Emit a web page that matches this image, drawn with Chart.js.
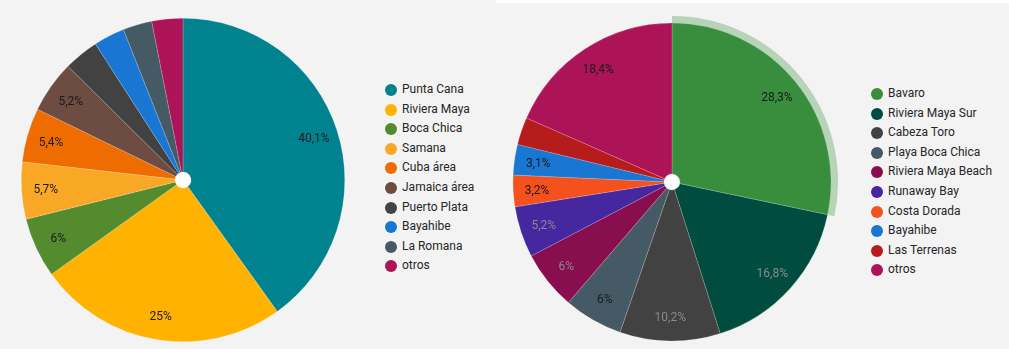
<!DOCTYPE html>
<html>
<head>
<meta charset="utf-8">
<script src="https://cdn.jsdelivr.net/npm/chart.js@4"></script>
<style>
  html, body { margin: 0; padding: 0; }
  body {
    width: 1009px; height: 349px; overflow: hidden;
    background: #f3f3f3; position: relative;
    font-family: Roboto, "Noto Sans", sans-serif;
  }
  .strip { position: absolute; left: 496px; top: 0; width: 513px; height: 3px; background: #fff; }
  .wrap { position: absolute; top: 0; height: 349px; }
  #left-wrap { left: 0; width: 366px; }
  #right-wrap { left: 500px; width: 350px; }
  .legend { position: absolute; margin: 0; padding: 0; list-style: none; }
  .legend li {
    height: 19.6px; line-height: 19.6px; font-size: 12px; color: #262626;
    white-space: nowrap; position: relative; padding-left: 17px;
  }
  .legend li span.dot {
    position: absolute; left: 0; top: 4px; width: 12px; height: 12px; border-radius: 50%;
  }
  #left-legend { left: 385px; top: 80px; }
  #right-legend { left: 871px; top: 84px; }
</style>
</head>
<body>
<div class="strip"></div>
<div class="wrap" id="left-wrap"><canvas id="leftChart"></canvas></div>
<div class="wrap" id="right-wrap"><canvas id="rightChart"></canvas></div>
<ul class="legend" id="left-legend"></ul>
<ul class="legend" id="right-legend"></ul>

<script>
// ==================================================
// DATA
// ==================================================
const leftLabels = ["Punta Cana", "Riviera Maya", "Boca Chica", "Samana", "Cuba área",
    "Jamaica área", "Puerto Plata", "Bayahibe", "La Romana", "otros"];
const leftValues = [40.1, 25, 6, 5.7, 5.4, 5.2, 3.5, 3.1, 2.9, 3.1];
const leftColors = ["#00838f", "#ffb300", "#558b2f", "#f9a825", "#ef6c00",
    "#6d4c41", "#424242", "#1976d2", "#455a64", "#ad1457"];
const leftShowLabel = [true, true, true, true, true, true, false, false, false, false];
const leftLabelColors = ["#1b1b1b", "#1b1b1b", "#1b1b1b", "#1b1b1b", "#1b1b1b",
    "#1b1b1b", "#1b1b1b", "#1b1b1b", "#1b1b1b", "#1b1b1b"];

const rightLabels = ["Bavaro", "Riviera Maya Sur", "Cabeza Toro", "Playa Boca Chica",
    "Riviera Maya Beach", "Runaway Bay", "Costa Dorada", "Bayahibe", "Las Terrenas", "otros"];
const rightValues = [28.3, 16.8, 10.2, 6, 6, 5.2, 3.2, 3.1, 2.8, 18.4];
const rightColors = ["#388e3c", "#004d40", "#424242", "#455a64", "#880e4f",
    "#4527a0", "#f4511e", "#1976d2", "#b71c1c", "#ad1457"];
const rightShowLabel = [true, true, true, true, true, true, true, true, false, true];
const rightLabelColors = ["#1b1b1b", "#8a8a8a", "#8a8a8a", "#1b1b1b", "#8a8a8a",
    "#8a8a8a", "#1b1b1b", "#1b1b1b", "#1b1b1b", "#1b1b1b"];

// ==================================================
// HELPERS
// ==================================================
function fmtPct(v) {
    return String(v).replace(".", ",") + "%";
}

function buildLegend(id, labels, colors) {
    const ul = document.getElementById(id);
    labels.forEach((lab, i) => {
        const li = document.createElement("li");
        li.innerHTML = `<span class="dot" style="background:${colors[i]}"></span>${lab}`;
        ul.appendChild(li);
    });
}

// draws percentage text inside the slices of the main dataset
function sliceLabels(mainIndex, show, textColors) {
    return {
        id: "sliceLabels",
        afterDatasetsDraw(chart) {
            const ctx = chart.ctx;
            const meta = chart.getDatasetMeta(mainIndex);
            const values = chart.data.datasets[mainIndex].data;
            ctx.save();
            ctx.font = "12px Roboto, 'Noto Sans', sans-serif";
            ctx.textAlign = "center";
            ctx.textBaseline = "middle";
            meta.data.forEach((arc, i) => {
                if (!show[i]) return;
                const p = arc.getProps(["x", "y", "startAngle", "endAngle", "outerRadius"], true);
                const mid = (p.startAngle + p.endAngle) / 2;
                const r = p.outerRadius * 0.85;
                ctx.fillStyle = textColors[i];
                ctx.fillText(fmtPct(values[i]), p.x + Math.cos(mid) * r, p.y + Math.sin(mid) * r + 1);
            });
            ctx.restore();
        }
    };
}

// ==================================================
// LEFT CHART
// ==================================================
new Chart(document.getElementById("leftChart"), {
    type: "pie",
    data: {
        labels: leftLabels,
        datasets: [{
            data: leftValues,
            backgroundColor: leftColors,
            borderColor: "rgba(255,255,255,0.35)",
            borderWidth: 0.5,
            weight: 154
        }, {
            data: [1],
            backgroundColor: "#ffffff",
            borderWidth: 0,
            weight: 8
        }]
    },
    options: {
        responsive: true,
        maintainAspectRatio: false,
        animation: false,
        layout: { padding: { left: 21, right: 21, top: 18, bottom: 7 } },
        plugins: { legend: { display: false }, tooltip: { enabled: false } }
    },
    plugins: [sliceLabels(0, leftShowLabel, leftLabelColors)]
});

// ==================================================
// RIGHT CHART
// ==================================================
const ringColors = rightColors.map((c, i) => i === 0 ? "rgba(56,142,60,0.32)" : "rgba(0,0,0,0)");

new Chart(document.getElementById("rightChart"), {
    type: "pie",
    data: {
        labels: rightLabels,
        datasets: [{
            data: rightValues,
            backgroundColor: ringColors,
            borderWidth: 0,
            weight: 7
        }, {
            data: rightValues,
            backgroundColor: rightColors,
            borderColor: "rgba(255,255,255,0.35)",
            borderWidth: 0.5,
            weight: 151
        }, {
            data: [1],
            backgroundColor: "#ffffff",
            borderWidth: 0,
            weight: 8
        }]
    },
    options: {
        responsive: true,
        maintainAspectRatio: false,
        animation: false,
        layout: { padding: { left: 6, right: 12, top: 16, bottom: 1 } },
        plugins: { legend: { display: false }, tooltip: { enabled: false } }
    },
    plugins: [sliceLabels(1, rightShowLabel, rightLabelColors)]
});

buildLegend("left-legend", leftLabels, leftColors);
buildLegend("right-legend", rightLabels, rightColors);
</script>
</body>
</html>
